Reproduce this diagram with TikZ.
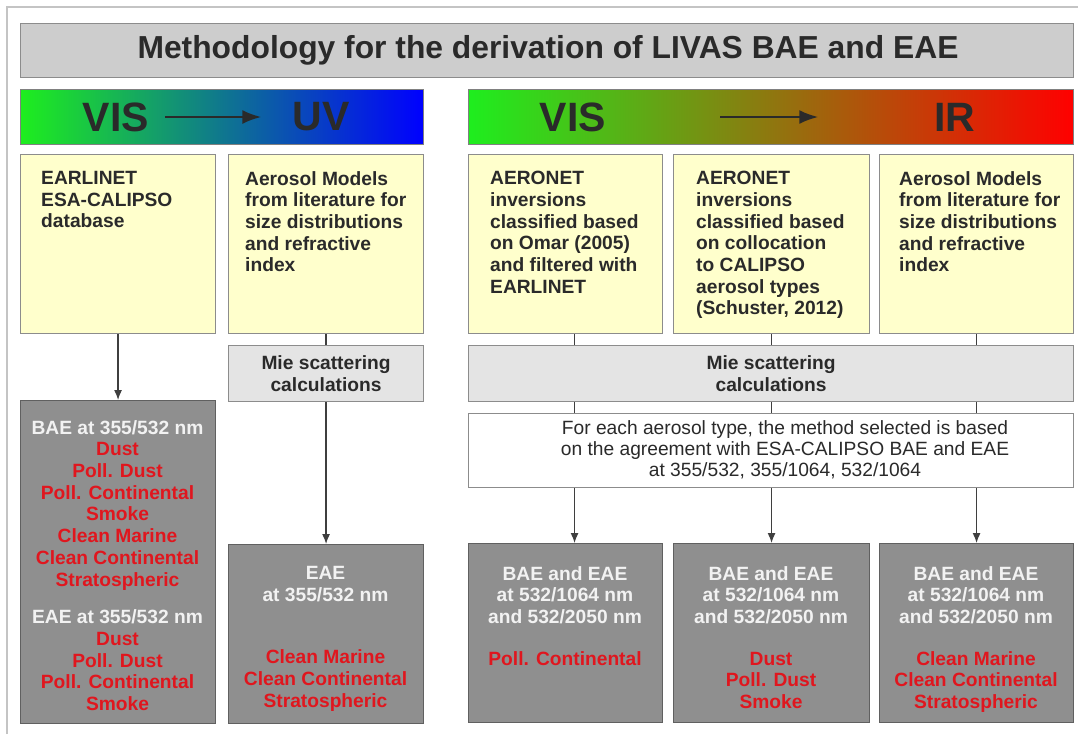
\documentclass[tikz,border=0pt]{standalone}
\usepackage{fontspec}
\setmainfont{Liberation Sans}
\usetikzlibrary{arrows.meta}

\definecolor{frameGrey}{HTML}{C4C4C4}
\definecolor{titleGrey}{HTML}{CDCDCD}
\definecolor{mieGrey}{HTML}{E4E4E4}
\definecolor{resGrey}{HTML}{8F8F8F}
\definecolor{inYellow}{HTML}{FFFFCC}
\definecolor{edgeGrey}{HTML}{8C8C8C}
\definecolor{typeRed}{HTML}{E0161E}
\definecolor{barGreen}{HTML}{1EEE1E}
\definecolor{inkGrey}{HTML}{2A2A2A}

\newcommand{\boxfont}{\fontsize{19.2pt}{21.7pt}\selectfont\bfseries}
\newcommand{\typ}[1]{\textcolor{typeRed}{#1}}

\tikzset{
  box/.style={draw=edgeGrey, line width=1.1pt, inner sep=0pt, anchor=north west},
  inbox/.style={box, fill=inYellow},
  miebox/.style={box, fill=mieGrey},
  resbox/.style={box, fill=resGrey, draw=gray!75!black},
  intext/.style={anchor=north west, inner sep=0pt, align=left, font=\boxfont, text=inkGrey},
  restext/.style={anchor=north, inner sep=0pt, align=center, font=\boxfont, text=white!95!black},
  bartext/.style={inner sep=0pt, font=\fontsize{41pt}{41pt}\selectfont\bfseries, text=inkGrey},
  flow/.style={draw=inkGrey!90, line width=1.2pt},
  bararrow/.style={draw=inkGrey, line width=2.4pt, -{Latex[length=19pt,width=14pt]}}
}

\begin{document}
\begin{tikzpicture}[x=1pt,y=-1pt,>={Latex[length=10pt,width=8pt]}]
  \useasboundingbox (0,0) rectangle (1078,734);
  % outer frame
  \draw[frameGrey, line width=1.5pt] (7,734) -- (7,7) -- (1078,7);

  % title
  \node[box, fill=titleGrey, minimum width=1053pt, minimum height=54pt] (title) at (20,23) {};
  \node[font=\fontsize{31.8pt}{31.8pt}\selectfont\bfseries, text=inkGrey] (titletext) at (548,50)
    {Methodology for the derivation of LIVAS BAE and EAE};

  % spectral bars
  \node[box, draw=gray, left color=barGreen, right color=blue, minimum width=403pt, minimum height=55pt] (uvbar) at (20,89) {};
  \node[box, draw=gray, left color=barGreen, right color=red, minimum width=605pt, minimum height=55pt] (irbar) at (468,89) {};
  \node[bartext] (visA) at (116,117) {VIS};
  \node[bartext] (uv)   at (321,117) {UV};
  \node[bartext] (visB) at (573,117) {VIS};
  \node[bartext] (ir)   at (955,117) {IR};
  \draw[bararrow, shorten <=16pt, shorten >=31pt] (visA.east) -- (uv.west);
  \draw[bararrow, shorten <=114pt, shorten >=116pt] (visB.east) -- (ir.west);

  % inputs
  \node[inbox, minimum width=195pt, minimum height=179pt] (aer1) at (20,154) {};
  \node[inbox, minimum width=195pt, minimum height=179pt] (aer2) at (228,154) {};
  \node[inbox, minimum width=194pt, minimum height=179pt] (aer3) at (468,154) {};
  \node[inbox, minimum width=196pt, minimum height=179pt] (aer4) at (673,154) {};
  \node[inbox, minimum width=194pt, minimum height=179pt] (aer5) at (879,154) {};
  \node[intext] (aer1text) at (41,171) {EARLINET\\ESA-CALIPSO\\database};
  \node[intext] (aer2text) at (245,171) {Aerosol Models\\from literature for\\size distributions\\and refractive\\index};
  \node[intext] (aer3text) at (490,171) {AERONET\\inversions\\classified based\\on Omar (2005)\\and filtered with\\EARLINET};
  \node[intext] (aer4text) at (696,171) {AERONET\\inversions\\classified based\\on collocation\\to CALIPSO\\aerosol types\\(Schuster, 2012)};
  \node[intext] (aer5text) at (899,171) {Aerosol Models\\from literature for\\size distributions\\and refractive\\index};

  % Mie scattering
  \node[miebox, minimum width=195pt, minimum height=56pt] (mieUV) at (228,345) {};
  \node[miebox, minimum width=605pt, minimum height=56pt] (mieIR) at (468,345) {};
  \node[align=center, font=\boxfont, text=inkGrey, inner sep=0pt] (mieUVtext) at (mieUV.center) {Mie scattering\\calculations};
  \node[align=center, font=\boxfont, text=inkGrey, inner sep=0pt] (mieIRtext) at (mieIR.center) {Mie scattering\\calculations};

  % selection
  \node[box, fill=white, minimum width=605pt, minimum height=74pt] (select) at (468,413) {};
  \node[align=center, inner sep=0pt, font=\fontsize{19.2pt}{21pt}\selectfont, text=inkGrey] (selecttext) at (785,450)
    {For each aerosol type, the method selected is based\\on the agreement with ESA-CALIPSO BAE and EAE\\at 355/532, 355/1064, 532/1064};

  % results
  \node[resbox, minimum width=195pt, minimum height=323pt] (res1) at (20,400) {};
  \node[resbox, minimum width=195pt, minimum height=179pt] (res2) at (228,544) {};
  \node[resbox, minimum width=194pt, minimum height=179pt] (res3) at (468,543) {};
  \node[resbox, minimum width=196pt, minimum height=179pt] (res4) at (673,543) {};
  \node[resbox, minimum width=194pt, minimum height=179pt] (res5) at (879,543) {};
  \node[restext] (res1text) at (117.5,420) {BAE at 355/532 nm\\\typ{Dust}\\\typ{Poll. Dust}\\\typ{Poll. Continental}\\\typ{Smoke}\\
    \typ{Clean Marine}\\\typ{Clean Continental}\\\typ{Stratospheric}\\[16pt]
    EAE at 355/532 nm\\\typ{Dust}\\\typ{Poll. Dust}\\\typ{Poll. Continental}\\\typ{Smoke}};
  \node[restext] (res2text) at (325.5,566) {EAE\\at 355/532 nm\\[41pt]\typ{Clean Marine}\\\typ{Clean Continental}\\\typ{Stratospheric}};
  \node[restext] (res3text) at (565,566) {BAE and EAE\\at 532/1064 nm\\and 532/2050 nm\\[20pt]\typ{Poll. Continental}};
  \node[restext] (res4text) at (771,566) {BAE and EAE\\at 532/1064 nm\\and 532/2050 nm\\[20pt]\typ{Dust}\\\typ{Poll. Dust}\\\typ{Smoke}};
  \node[restext] (res5text) at (976,566) {BAE and EAE\\at 532/1064 nm\\and 532/2050 nm\\[20pt]\typ{Clean Marine}\\\typ{Clean Continental}\\\typ{Stratospheric}};

  % connectors
  \draw[flow,->] (aer1.south) -- (res1.north);
  \draw[flow] (aer2.south) -- (mieUV.north);
  \draw[flow,->] (mieUV.south) -- (res2.north);
  \draw[flow] ([xshift=9pt]aer3.south) -- ([xshift=9pt]aer3.south |- mieIR.north);
  \draw[flow] (aer4.south) -- (aer4.south |- mieIR.north);
  \draw[flow] (aer5.south) -- (aer5.south |- mieIR.north);
  \draw[flow] ([xshift=9pt]aer3.south |- mieIR.south) -- ([xshift=9pt]aer3.south |- select.north);
  \draw[flow] (aer4.south |- mieIR.south) -- (aer4.south |- select.north);
  \draw[flow] (aer5.south |- mieIR.south) -- (aer5.south |- select.north);
  \draw[flow,->] ([xshift=9pt]aer3.south |- select.south) -- ([xshift=9pt]aer3.south |- res3.north);
  \draw[flow,->] (aer4.south |- select.south) -- (res4.north);
  \draw[flow,->] (aer5.south |- select.south) -- (res5.north);
\end{tikzpicture}
\end{document}
